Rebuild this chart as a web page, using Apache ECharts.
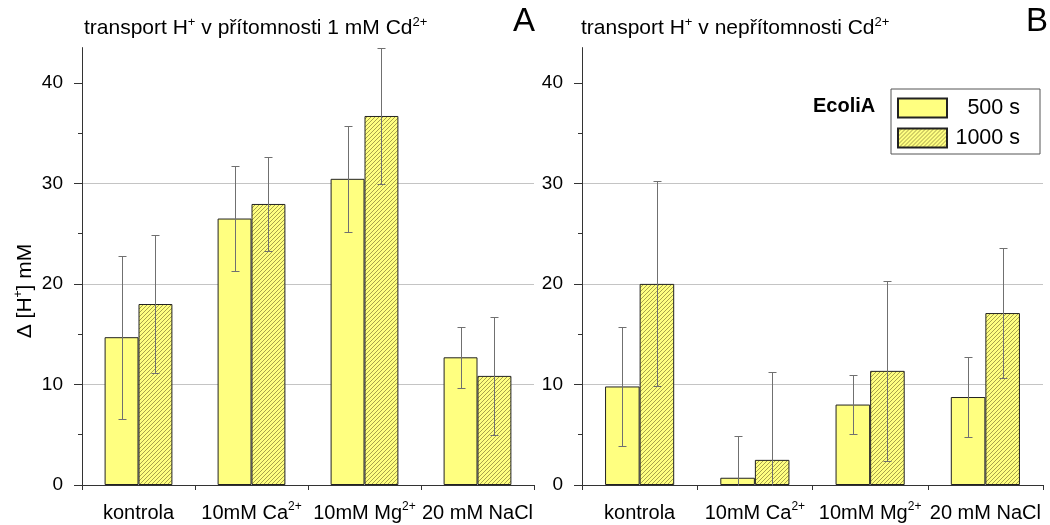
<!DOCTYPE html>
<html>
<head>
<meta charset="utf-8">
<script src="https://cdn.jsdelivr.net/npm/echarts@6/dist/echarts.min.js"></script>
<style>
  html, body { margin: 0; padding: 0; background: #ffffff; }
  #chart { width: 1050px; height: 525px; }
</style>
</head>
<body>
<div id="chart"></div>
<script>
// Treatments along the x axis ({s|...} marks a superscript)
const categories = ['kontrola', '10mM Ca{s|2+}', '10mM Mg{s|2+}', '20 mM NaCl'];
const yTicks = [0, 10, 20, 30, 40];
const yMinorTicks = [5, 15, 25, 35];
const yMax = 43.5;

// Panel A: H+ transport with 1 mM Cd2+ present (mean and error, mM)
const a500 = [14.7, 26.5, 30.45, 12.7];
const a500Err = [8.1, 5.2, 5.25, 3.05];
const a1000 = [18.0, 27.95, 36.7, 10.85];
const a1000Err = [6.9, 4.65, 6.75, 5.85];

// Panel B: H+ transport without Cd2+
const b500 = [9.8, 0.72, 8.0, 8.75];
const b500Err = [5.95, 4.2, 2.9, 3.95];
const b1000 = [20.0, 2.5, 11.35, 17.1];
const b1000Err = [10.2, 8.7, 8.95, 6.45];

const FONT = "'Liberation Sans', Arial, sans-serif";
const FILL = '#ffff80';
const EDGE = '#222222';

// Diagonal hatch tile for the 1000 s bars
function hatchTile() {
  const c = document.createElement('canvas');
  c.width = 4; c.height = 4;
  const g = c.getContext('2d');
  g.fillStyle = FILL;
  g.fillRect(0, 0, 4, 4);
  g.strokeStyle = '#a8a24c';
  g.lineWidth = 1;
  g.beginPath();
  g.moveTo(-1, 5); g.lineTo(5, -1);
  g.moveTo(-1, 1); g.lineTo(1, -1);
  g.moveTo(3, 5); g.lineTo(5, 3);
  g.stroke();
  return c;
}
const HATCH = { image: hatchTile(), repeat: 'repeat' };

const supRich = {
  s: { fontSize: 12, lineHeight: 12, verticalAlign: 'top', fontFamily: FONT, color: '#000' }
};

function barSeries(name, gridIdx, values, color) {
  return {
    name: name,
    type: 'bar',
    xAxisIndex: gridIdx,
    yAxisIndex: gridIdx * 2,
    data: values,
    barWidth: '30%',
    barGap: '0%',
    itemStyle: { color: color, borderColor: EDGE, borderWidth: 1 },
    emphasis: { disabled: true },
    z: 2
  };
}

// Vertical error bar with caps, centred on the left (-1) or right (+1) bar of a pair
function errorSeries(gridIdx, values, errs, side) {
  return {
    type: 'custom',
    xAxisIndex: gridIdx,
    yAxisIndex: gridIdx * 2,
    silent: true,
    z: 3,
    data: values.map((v, i) => [i, v, errs[i]]),
    renderItem: function (params, api) {
      const i = api.value(0), v = api.value(1), e = api.value(2);
      const band = api.size([1, 0])[0];
      const lo = Math.max(0, v - e), hi = v + e;
      const pHi = api.coord([i, hi]);
      const pLo = api.coord([i, lo]);
      const x = Math.round(pHi[0] + side * band * 0.15) + 0.5;
      const yHi = Math.round(pHi[1]) + 0.5;
      const yLo = Math.round(pLo[1]) + 0.5;
      const cap = 4;
      const style = { stroke: '#707070', lineWidth: 1, fill: null };
      const children = [
        { type: 'line', shape: { x1: x, y1: yHi, x2: x, y2: yLo }, style: style },
        { type: 'line', shape: { x1: x - cap, y1: yHi, x2: x + cap, y2: yHi }, style: style }
      ];
      if (v - e >= 0) {
        children.push({ type: 'line', shape: { x1: x - cap, y1: yLo, x2: x + cap, y2: yLo }, style: style });
      }
      return { type: 'group', children: children };
    }
  };
}

function xAxis(gridIdx) {
  return {
    type: 'category',
    gridIndex: gridIdx,
    data: categories,
    axisLine: { lineStyle: { color: '#333', width: 1 } },
    axisTick: { show: true, length: 5, lineStyle: { color: '#333' } },
    axisLabel: {
      interval: 0,
      margin: 16,
      color: '#000',
      fontSize: 20,
      lineHeight: 24,
      fontFamily: FONT,
      rich: supRich
    },
    splitLine: { show: false }
  };
}

function yAxisMain(gridIdx) {
  return {
    type: 'value',
    gridIndex: gridIdx,
    min: 0,
    max: yMax,
    interval: 10,
    axisLine: { show: true, lineStyle: { color: '#333', width: 1 } },
    axisTick: { show: true, length: 8, customValues: yTicks, lineStyle: { color: '#333' } },
    axisLabel: {
      customValues: yTicks,
      margin: 19,
      color: '#000',
      fontSize: 19,
      fontFamily: FONT
    },
    splitLine: { show: true, showMinLine: false, showMaxLine: false, lineStyle: { color: '#c4c4c4', width: 1 } }
  };
}

function yAxisMinor(gridIdx) {
  return {
    type: 'value',
    gridIndex: gridIdx,
    position: 'left',
    min: 0,
    max: yMax,
    interval: 5,
    axisLine: { show: false },
    axisTick: { show: true, length: 4, customValues: yMinorTicks, lineStyle: { color: '#333' } },
    axisLabel: { show: false },
    splitLine: { show: false }
  };
}

const titleRich = {
  s: { fontSize: 13, lineHeight: 13, verticalAlign: 'top', fontFamily: FONT, color: '#000' }
};

const chart = echarts.init(document.getElementById('chart'), null, { renderer: 'canvas' });

chart.setOption({
  animation: false,
  backgroundColor: '#ffffff',
  textStyle: { fontFamily: FONT },
  title: [
    {
      text: 'transport H{s|+} v přítomnosti 1 mM Cd{s|2+}',
      left: 84, top: 16, padding: 0,
      textStyle: { fontSize: 21, lineHeight: 24, fontWeight: 'normal', color: '#000', fontFamily: FONT, rich: titleRich }
    },
    {
      text: 'transport H{s|+} v nepřítomnosti Cd{s|2+}',
      left: 581, top: 16, padding: 0,
      textStyle: { fontSize: 21, lineHeight: 24, fontWeight: 'normal', color: '#000', fontFamily: FONT, rich: titleRich }
    }
  ],
  legend: {
    data: ['500 s', '1000 s'],
    orient: 'vertical',
    left: 891,
    top: 89,
    icon: 'rect',
    itemWidth: 49,
    itemHeight: 19,
    itemGap: 8,
    padding: [8, 20, 5, 6],
    borderColor: '#555',
    borderWidth: 1,
    selectedMode: false,
    formatter: function (name) { return '{t|' + name + '}'; },
    textStyle: {
      color: '#000',
      fontSize: 21.5,
      lineHeight: 19,
      fontFamily: FONT,
      rich: { t: { width: 68, align: 'right', fontSize: 21.5, lineHeight: 19, fontFamily: FONT, color: '#000' } }
    }
  },
  grid: [
    { left: 82, right: 516, top: 47.6, bottom: 37, containLabel: false },
    { left: 582, right: 7, top: 47.6, bottom: 37, containLabel: false }
  ],
  xAxis: [xAxis(0), xAxis(1)],
  yAxis: [yAxisMain(0), yAxisMinor(0), yAxisMain(1), yAxisMinor(1)],
  series: [
    barSeries('500 s', 0, a500, FILL),
    barSeries('1000 s', 0, a1000, HATCH),
    barSeries('500 s', 1, b500, FILL),
    barSeries('1000 s', 1, b1000, HATCH),
    errorSeries(0, a500, a500Err, -1),
    errorSeries(0, a1000, a1000Err, 1),
    errorSeries(1, b500, b500Err, -1),
    errorSeries(1, b1000, b1000Err, 1)
  ],
  graphic: [
    {
      type: 'text', left: 513, top: 5,
      style: { text: 'A', fontSize: 33, fontFamily: FONT, fill: '#000' }
    },
    {
      type: 'text', left: 1026, top: 5,
      style: { text: 'B', fontSize: 33, fontFamily: FONT, fill: '#000' }
    },
    {
      type: 'text', left: 813, top: 96,
      style: { text: 'EcoliA', fontSize: 20, fontWeight: 'bold', fontFamily: FONT, fill: '#000' }
    },
    {
      type: 'text',
      x: 25, y: 291,
      rotation: Math.PI / 2,
      style: {
        text: 'Δ [H{s|+}] mM',
        fontSize: 21,
        lineHeight: 24,
        fontFamily: FONT,
        fill: '#000',
        align: 'center',
        verticalAlign: 'middle',
        rich: { s: { fontSize: 12, lineHeight: 12, verticalAlign: 'top', fontFamily: FONT } }
      }
    }
  ]
});
</script>
</body>
</html>
